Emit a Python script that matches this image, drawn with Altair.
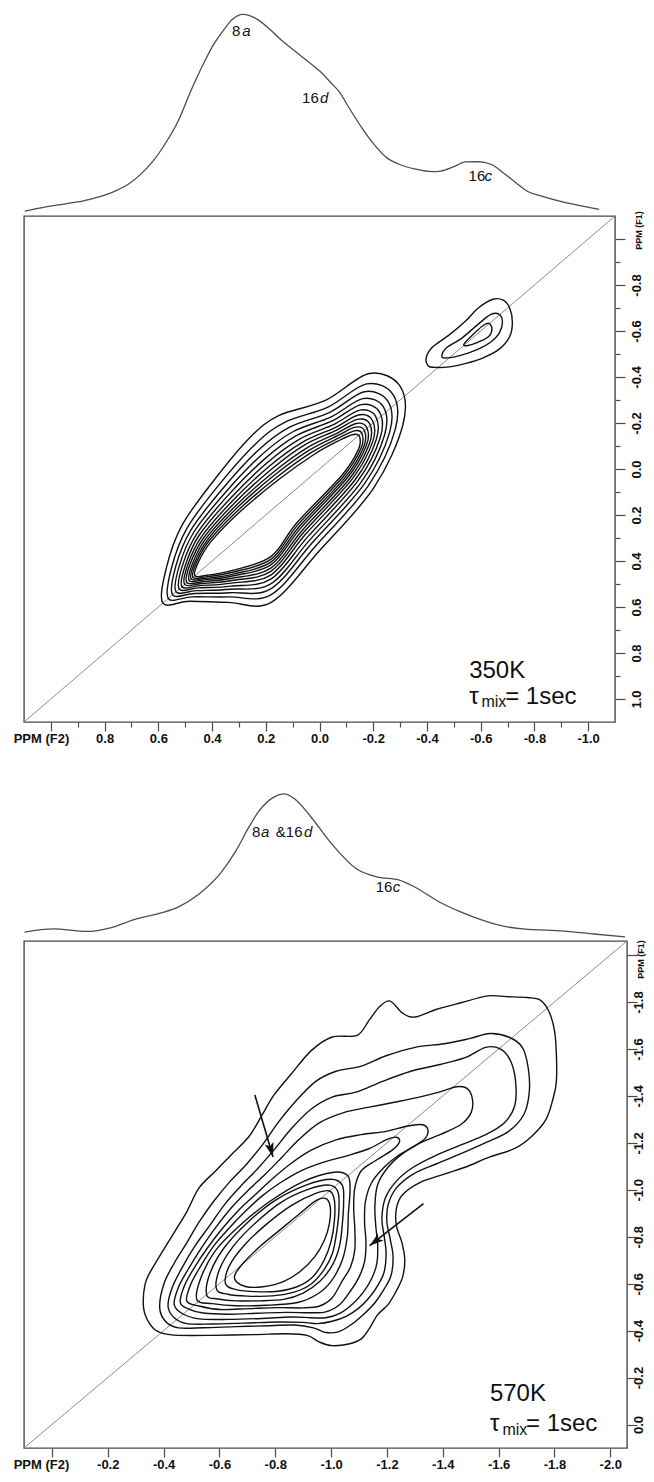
import altair as alt
import pandas as pd

# ---------------- fonts / colours ----------------
FONT_R = "Liberation Sans, Arial, sans-serif"
INK = "#111111"
BOX = "#4a4a4a"

# ---------------- axis ticks ----------------
X1_TICKS = [1.0, 0.9, 0.8, 0.7, 0.6, 0.5, 0.4, 0.3, 0.2, 0.1, 0.0,
            -0.1, -0.2, -0.3, -0.4, -0.5, -0.6, -0.7, -0.8, -0.9, -1.0]
Y1_TICKS = [-1.0, -0.9, -0.8, -0.7, -0.6, -0.5, -0.4, -0.3, -0.2, -0.1, 0.0,
            0.1, 0.2, 0.3, 0.4, 0.5, 0.6, 0.7, 0.8, 0.9, 1.0]
X2_TICKS = [0.0, -0.1, -0.2, -0.3, -0.4, -0.5, -0.6, -0.7, -0.8, -0.9, -1.0,
            -1.1, -1.2, -1.3, -1.4, -1.5, -1.6, -1.7, -1.8, -1.9, -2.0]
Y2_TICKS = X2_TICKS
DOM1 = [-1.1, 1.1]
DOM2 = [-2.06, 0.1]

# ---------------- 1D projections ----------------
P350_PPM = [1.097, 1.023, 0.945, 0.883, 0.821, 0.759, 0.712, 0.666, 0.619, 0.572, 0.526,
            0.479, 0.433, 0.394, 0.355, 0.324, 0.286, 0.231, 0.185, 0.138, 0.092, 0.045,
            -0.001, -0.048, -0.071, -0.110, -0.157, -0.203, -0.250, -0.296, -0.358, -0.420,
            -0.451, -0.498, -0.544, -0.591, -0.638, -0.684, -0.731, -0.777, -0.824, -0.901,
            -0.979, -1.041]
P350_INT = [0.024, 0.043, 0.059, 0.072, 0.092, 0.121, 0.153, 0.201, 0.266, 0.354, 0.459,
            0.604, 0.733, 0.829, 0.902, 0.950, 0.974, 0.950, 0.902, 0.845, 0.797, 0.749,
            0.700, 0.636, 0.604, 0.523, 0.427, 0.346, 0.282, 0.250, 0.226, 0.214,
            0.217, 0.237, 0.261, 0.262, 0.250, 0.209, 0.161, 0.117, 0.097, 0.069,
            0.048, 0.032]
P570_PPM = [0.098, -0.005, -0.123, -0.213, -0.302, -0.391, -0.452, -0.527, -0.602, -0.659,
            -0.706, -0.742, -0.795, -0.831, -0.870, -0.928, -1.003, -1.092, -1.167, -1.242,
            -1.299, -1.388, -1.464, -1.539, -1.614, -1.689, -1.835, -1.942, -2.053]
P570_INT = [0.046, 0.062, 0.049, 0.069, 0.113, 0.144, 0.174, 0.241, 0.344, 0.462,
            0.585, 0.667, 0.738, 0.754, 0.728, 0.636, 0.497, 0.369, 0.328, 0.313,
            0.277, 0.200, 0.149, 0.108, 0.077, 0.062, 0.051, 0.036, 0.021]

# peak labels on the projections: (text, ppm of left edge, intensity of baseline)
P350_LAB_NORMAL = [("8", 0.326, 0.870), ("16", 0.065, 0.546), ("16", -0.555, 0.169)]
P350_LAB_ITALIC = [("a", 0.288, 0.870), ("d", -0.002, 0.546), ("c", -0.614, 0.169)]
P570_LAB_NORMAL = [("8", -0.717, 0.533), ("&16", -0.802, 0.533), ("16", -1.160, 0.251)]
P570_LAB_ITALIC = [("a", -0.749, 0.533), ("d", -0.903, 0.533), ("c", -1.221, 0.251)]

# ---------------- 350 K contours (ppm F2, ppm F1) ----------------
T_C00_X = [0.583, 0.570, 0.513, 0.392, 0.258, 0.152, -0.022, -0.185, -0.300, -0.310, -0.202, 0.002, 0.180, 0.340, 0.485]
T_C00_Y = [0.583, 0.430, 0.247, 0.048, -0.138, -0.232, -0.298, -0.415, -0.360, -0.190, 0.082, 0.358, 0.580, 0.580, 0.575]
T_C01_X = [0.563, 0.550, 0.494, 0.376, 0.240, 0.130, -0.031, -0.175, -0.274, -0.282, -0.182, 0.016, 0.180, 0.337, 0.474]
T_C01_Y = [0.563, 0.426, 0.259, 0.071, -0.107, -0.203, -0.269, -0.370, -0.323, -0.172, 0.072, 0.337, 0.546, 0.556, 0.556]
T_C02_X = [0.547, 0.535, 0.480, 0.363, 0.227, 0.113, -0.038, -0.167, -0.255, -0.261, -0.167, 0.027, 0.180, 0.334, 0.465]
T_C02_Y = [0.547, 0.423, 0.268, 0.089, -0.083, -0.181, -0.246, -0.336, -0.294, -0.159, 0.065, 0.321, 0.520, 0.538, 0.541]
T_C03_X = [0.534, 0.522, 0.468, 0.352, 0.215, 0.099, -0.044, -0.161, -0.238, -0.242, -0.154, 0.036, 0.180, 0.332, 0.458]
T_C03_Y = [0.534, 0.421, 0.275, 0.104, -0.062, -0.162, -0.227, -0.306, -0.270, -0.147, 0.059, 0.308, 0.498, 0.523, 0.529]
T_C04_X = [0.522, 0.510, 0.457, 0.343, 0.204, 0.086, -0.049, -0.155, -0.223, -0.226, -0.142, 0.044, 0.180, 0.330, 0.451]
T_C04_Y = [0.522, 0.419, 0.282, 0.118, -0.044, -0.145, -0.210, -0.280, -0.248, -0.136, 0.053, 0.295, 0.478, 0.509, 0.517]
T_C05_X = [0.512, 0.499, 0.448, 0.334, 0.195, 0.074, -0.054, -0.150, -0.209, -0.211, -0.132, 0.052, 0.180, 0.328, 0.445]
T_C05_Y = [0.512, 0.417, 0.288, 0.130, -0.027, -0.130, -0.194, -0.256, -0.229, -0.127, 0.048, 0.284, 0.460, 0.496, 0.507]
T_C06_X = [0.502, 0.490, 0.439, 0.326, 0.187, 0.064, -0.058, -0.145, -0.197, -0.198, -0.122, 0.058, 0.180, 0.326, 0.439]
T_C06_Y = [0.502, 0.415, 0.294, 0.141, -0.012, -0.116, -0.180, -0.235, -0.211, -0.119, 0.043, 0.274, 0.444, 0.485, 0.498]
T_C07_X = [0.494, 0.482, 0.431, 0.319, 0.179, 0.055, -0.062, -0.141, -0.187, -0.186, -0.114, 0.064, 0.180, 0.325, 0.435]
T_C07_Y = [0.494, 0.414, 0.299, 0.151, 0.001, -0.105, -0.168, -0.216, -0.196, -0.111, 0.039, 0.266, 0.430, 0.475, 0.490]
T_C08_X = [0.485, 0.473, 0.424, 0.312, 0.172, 0.045, -0.066, -0.137, -0.176, -0.175, -0.106, 0.070, 0.180, 0.324, 0.430]
T_C08_Y = [0.485, 0.412, 0.304, 0.160, 0.014, -0.093, -0.156, -0.198, -0.180, -0.104, 0.035, 0.257, 0.416, 0.465, 0.482]
T_C09_X = [0.478, 0.466, 0.417, 0.307, 0.166, 0.038, -0.069, -0.133, -0.167, -0.165, -0.099, 0.075, 0.180, 0.322, 0.426]
T_C09_Y = [0.478, 0.411, 0.308, 0.169, 0.025, -0.082, -0.146, -0.182, -0.167, -0.098, 0.032, 0.250, 0.404, 0.457, 0.476]
T_C10_X = [0.471, 0.459, 0.411, 0.301, 0.159, 0.030, -0.072, -0.130, -0.158, -0.155, -0.092, 0.080, 0.180, 0.321, 0.422]
T_C10_Y = [0.471, 0.409, 0.312, 0.177, 0.036, -0.072, -0.135, -0.166, -0.154, -0.091, 0.028, 0.242, 0.392, 0.448, 0.469]
T_C11_X = [0.464, 0.452, 0.404, 0.295, 0.153, 0.022, -0.075, -0.126, -0.149, -0.145, -0.085, 0.085, 0.180, 0.320, 0.418]
T_C11_Y = [0.464, 0.408, 0.316, 0.185, 0.047, -0.062, -0.125, -0.150, -0.141, -0.085, 0.025, 0.235, 0.380, 0.440, 0.462]
# 16c cross-peak region
T_S0_X = [-0.405, -0.397, -0.420, -0.483, -0.545, -0.591, -0.646, -0.684, -0.708, -0.718, -0.708, -0.669, -0.607, -0.545, -0.483, -0.428]
T_S0_Y = [-0.448, -0.483, -0.529, -0.583, -0.645, -0.700, -0.738, -0.734, -0.700, -0.638, -0.576, -0.521, -0.482, -0.459, -0.444, -0.442]
T_S1_X = [-0.455, -0.475, -0.529, -0.591, -0.638, -0.669, -0.681, -0.669, -0.638, -0.591, -0.529, -0.475]
T_S1_Y = [-0.490, -0.529, -0.568, -0.630, -0.672, -0.672, -0.638, -0.591, -0.552, -0.521, -0.495, -0.483]
T_S2_X = [-0.537, -0.560, -0.607, -0.630, -0.642, -0.630, -0.591, -0.552]
T_S2_Y = [-0.541, -0.572, -0.622, -0.633, -0.610, -0.576, -0.552, -0.537]

# ---------------- 570 K contours ----------------
L_C00_X = [-0.327, -0.334, -0.349, -0.393, -0.438, -0.483, -0.527, -0.587, -0.646, -0.706, -0.751, -0.795, -0.855,
           -0.929, -1.004, -1.093, -1.137, -1.175, -1.212, -1.256, -1.301, -1.376, -1.465, -1.562, -1.628, -1.703,
           -1.748, -1.780, -1.800, -1.807, -1.807, -1.795, -1.770, -1.718, -1.658, -1.569, -1.480, -1.405, -1.316,
           -1.256, -1.234, -1.234, -1.254, -1.264, -1.256, -1.234, -1.204, -1.167, -1.137, -1.108, -1.063, -1.004,
           -0.959, -0.914, -0.840, -0.721, -0.572, -0.453, -0.401, -0.364, -0.334]
L_C00_Y = [-0.526, -0.599, -0.643, -0.731, -0.818, -0.906, -1.008, -1.081, -1.154, -1.227, -1.315, -1.403, -1.490,
           -1.593, -1.651, -1.658, -1.724, -1.782, -1.804, -1.753, -1.736, -1.768, -1.797, -1.826, -1.823, -1.819,
           -1.809, -1.761, -1.680, -1.578, -1.461, -1.388, -1.300, -1.227, -1.176, -1.140, -1.096, -1.067, -1.030,
           -0.979, -0.921, -0.847, -0.774, -0.701, -0.628, -0.570, -0.511, -0.468, -0.409, -0.365, -0.343, -0.336,
           -0.351, -0.380, -0.387, -0.383, -0.380, -0.380, -0.387, -0.409, -0.468]
L_C01_X = [-0.386, -0.401, -0.438, -0.483, -0.527, -0.579, -0.639, -0.698, -0.758, -0.810, -0.870, -0.944, -1.018,
           -1.108, -1.197, -1.301, -1.405, -1.495, -1.569, -1.636, -1.685, -1.706, -1.710, -1.691, -1.636, -1.554,
           -1.465, -1.376, -1.294, -1.234, -1.204, -1.200, -1.212, -1.222, -1.215, -1.190, -1.157, -1.115, -1.070,
           -1.026, -0.981, -0.937, -0.870, -0.780, -0.661, -0.542, -0.453, -0.408]
L_C01_Y = [-0.497, -0.599, -0.687, -0.774, -0.862, -0.950, -1.037, -1.110, -1.198, -1.286, -1.373, -1.461, -1.505,
           -1.527, -1.571, -1.607, -1.622, -1.644, -1.666, -1.651, -1.607, -1.520, -1.417, -1.322, -1.249, -1.201,
           -1.154, -1.110, -1.067, -1.008, -0.935, -0.862, -0.789, -0.716, -0.636, -0.577, -0.519, -0.468, -0.424,
           -0.395, -0.392, -0.412, -0.424, -0.421, -0.417, -0.412, -0.412, -0.438]
L_C02_X = [-0.416, -0.431, -0.468, -0.512, -0.565, -0.617, -0.676, -0.736, -0.795, -0.855, -0.929, -1.004, -1.093,
           -1.182, -1.286, -1.390, -1.480, -1.554, -1.606, -1.643, -1.661, -1.658, -1.621, -1.554, -1.465, -1.376,
           -1.294, -1.234, -1.194, -1.182, -1.190, -1.197, -1.190, -1.167, -1.137, -1.100, -1.056, -1.004, -0.951,
           -0.899, -0.810, -0.691, -0.572, -0.483, -0.438]
L_C02_Y = [-0.504, -0.584, -0.672, -0.760, -0.847, -0.935, -1.015, -1.089, -1.169, -1.257, -1.344, -1.395, -1.417,
           -1.461, -1.505, -1.534, -1.563, -1.607, -1.600, -1.549, -1.461, -1.359, -1.286, -1.235, -1.191, -1.147,
           -1.096, -1.037, -0.964, -0.877, -0.804, -0.731, -0.650, -0.592, -0.541, -0.497, -0.462, -0.440, -0.430,
           -0.435, -0.437, -0.432, -0.428, -0.430, -0.455]
L_C03_X = [-0.438, -0.453, -0.490, -0.535, -0.587, -0.646, -0.706, -0.765, -0.825, -0.884, -0.959, -1.048, -1.137,
           -1.227, -1.316, -1.390, -1.450, -1.487, -1.506, -1.502, -1.465, -1.390, -1.316, -1.256, -1.204, -1.167,
           -1.157, -1.160, -1.167, -1.164, -1.145, -1.115, -1.078, -1.033, -0.981, -0.929, -0.855, -0.751, -0.632,
           -0.527, -0.468]
L_C03_Y = [-0.511, -0.584, -0.665, -0.752, -0.840, -0.928, -1.001, -1.067, -1.140, -1.213, -1.286, -1.330, -1.352,
           -1.373, -1.395, -1.417, -1.439, -1.432, -1.388, -1.330, -1.278, -1.235, -1.198, -1.154, -1.096, -1.023,
           -0.935, -0.847, -0.767, -0.687, -0.621, -0.563, -0.515, -0.475, -0.455, -0.455, -0.458, -0.452, -0.448,
           -0.450, -0.472]
L_C04_X = [-0.460, -0.475, -0.512, -0.557, -0.609, -0.669, -0.728, -0.788, -0.855, -0.929, -1.018, -1.108, -1.197,
           -1.271, -1.323, -1.346, -1.338, -1.294, -1.242, -1.190, -1.145, -1.123, -1.120, -1.125, -1.120, -1.100,
           -1.070, -1.030, -0.981, -0.922, -0.840, -0.736, -0.632, -0.542, -0.490]
L_C04_Y = [-0.519, -0.592, -0.672, -0.752, -0.833, -0.913, -0.979, -1.045, -1.111, -1.169, -1.213, -1.235, -1.249,
           -1.271, -1.278, -1.259, -1.220, -1.183, -1.147, -1.096, -1.030, -0.950, -0.862, -0.774, -0.694, -0.628,
           -0.570, -0.510, -0.480, -0.476, -0.478, -0.474, -0.470, -0.475, -0.492]
L_C05_X = [-0.483, -0.498, -0.535, -0.579, -0.632, -0.691, -0.751, -0.818, -0.892, -0.974, -1.063, -1.137, -1.197,
           -1.234, -1.245, -1.219, -1.160, -1.108, -1.085, -1.081, -1.085, -1.085, -1.070, -1.041, -1.004, -0.959,
           -0.899, -0.810, -0.706, -0.602, -0.527]
L_C05_Y = [-0.526, -0.599, -0.679, -0.760, -0.833, -0.906, -0.972, -1.030, -1.081, -1.118, -1.147, -1.176, -1.213,
           -1.224, -1.205, -1.169, -1.125, -1.081, -1.008, -0.921, -0.833, -0.745, -0.672, -0.614, -0.540, -0.505,
           -0.497, -0.498, -0.494, -0.490, -0.505]
L_C06_X = [-0.520, -0.532, -0.585, -0.675, -0.780, -0.900, -1.010, -1.060, -1.068, -1.062, -1.058, -1.040, -1.000,
           -0.950, -0.880, -0.770, -0.660, -0.575]
L_C06_Y = [-0.530, -0.620, -0.740, -0.850, -0.950, -1.035, -1.075, -1.060, -1.000, -0.900, -0.800, -0.700, -0.610,
           -0.555, -0.520, -0.508, -0.506, -0.515]
L_C07_X = [-0.555, -0.565, -0.615, -0.700, -0.800, -0.910, -1.000, -1.040, -1.045, -1.040, -1.030, -1.005, -0.960,
           -0.900, -0.830, -0.740, -0.660, -0.595]
L_C07_Y = [-0.550, -0.640, -0.750, -0.860, -0.955, -1.020, -1.045, -1.020, -0.950, -0.850, -0.760, -0.680, -0.610,
           -0.560, -0.533, -0.527, -0.527, -0.535]
L_C08_X = [-0.590, -0.600, -0.650, -0.730, -0.825, -0.925, -0.995, -1.025, -1.028, -1.020, -1.005, -0.975, -0.930,
           -0.870, -0.790, -0.700, -0.630]
L_C08_Y = [-0.575, -0.660, -0.760, -0.860, -0.950, -1.005, -1.020, -0.990, -0.910, -0.820, -0.730, -0.660, -0.600,
           -0.565, -0.548, -0.547, -0.555]
L_C09_X = [-0.622, -0.635, -0.690, -0.770, -0.860, -0.945, -0.995, -1.012, -1.012, -1.000, -0.975, -0.935, -0.880,
           -0.810, -0.730, -0.660]
L_C09_Y = [-0.600, -0.675, -0.765, -0.855, -0.935, -0.985, -0.995, -0.955, -0.870, -0.780, -0.700, -0.630, -0.588,
           -0.568, -0.566, -0.575]
L_C10_X = [-0.655, -0.684, -0.744, -0.815, -0.887, -0.947, -0.982, -0.997, -0.994, -0.976, -0.941, -0.887, -0.827,
           -0.756, -0.696, -0.661]
L_C10_Y = [-0.636, -0.686, -0.757, -0.827, -0.898, -0.955, -0.962, -0.926, -0.856, -0.785, -0.714, -0.650, -0.608,
           -0.587, -0.587, -0.608]

# arrows in the 570 K map (start -> tip, ppm) and their head rotation
ARROW_X1 = [-0.727, -1.331]
ARROW_Y1 = [-1.404, -0.941]
ARROW_X2 = [-0.792, -1.138]
ARROW_Y2 = [-1.140, -0.762]
ARROW_ANGLE = [344, 52]

# annotation text (left edge / baseline in ppm, font size)
ANN350 = [("350K", -0.557, 0.909, 24), ("\u03c4", -0.557, 1.022, 24), ("mix", -0.603, 1.035, 16), ("= 1sec", -0.691, 1.022, 24)]
ANN570 = [("570K", -1.569, -0.099, 24), ("\u03c4", -1.569, 0.028, 24), ("mix", -1.614, 0.045, 16), ("= 1sec", -1.698, 0.028, 24)]

# ---------------- tables ----------------
TOP_SET = [(T_C00_X, T_C00_Y), (T_C01_X, T_C01_Y), (T_C02_X, T_C02_Y), (T_C03_X, T_C03_Y),
           (T_C04_X, T_C04_Y), (T_C05_X, T_C05_Y), (T_C06_X, T_C06_Y), (T_C07_X, T_C07_Y),
           (T_C08_X, T_C08_Y), (T_C09_X, T_C09_Y), (T_C10_X, T_C10_Y), (T_C11_X, T_C11_Y),
           (T_S0_X, T_S0_Y), (T_S1_X, T_S1_Y), (T_S2_X, T_S2_Y)]
LOW_SET = [(L_C00_X, L_C00_Y), (L_C01_X, L_C01_Y), (L_C02_X, L_C02_Y), (L_C03_X, L_C03_Y),
           (L_C04_X, L_C04_Y), (L_C05_X, L_C05_Y), (L_C06_X, L_C06_Y), (L_C07_X, L_C07_Y),
           (L_C08_X, L_C08_Y), (L_C09_X, L_C09_Y), (L_C10_X, L_C10_Y)]


def contour_table(sets):
    rows = []
    for cid, (xs, ys) in enumerate(sets):
        assert len(xs) == len(ys), (cid, len(xs), len(ys))
        for k, (x, y) in enumerate(zip(xs, ys)):
            rows.append({"c": cid, "k": k, "x": x, "y": y})
    return pd.DataFrame(rows)


def proj_table(xs, ys):
    assert len(xs) == len(ys)
    return pd.DataFrame({"x": xs, "i": ys, "k": list(range(len(xs)))})


def label_table(items):
    return pd.DataFrame([{"t": t, "x": x, "i": i} for t, x, i in items])


def ann_table(items):
    return pd.DataFrame([{"t": t, "x": x, "y": y, "s": s} for t, x, y, s in items])


EVEN = "abs(round(datum.value * 10)) % 2 == 0"
FMT = "(datum.value < -0.001 ? '-' : '') + format(abs(datum.value), '.1f')"
LAB_SIZE = 13


def x_axis(values, cond):
    return alt.Axis(
        orient="bottom", values=values, domain=False, grid=False,
        tickColor=BOX, tickWidth=1.2,
        tickSize={"condition": {"test": EVEN, "value": 9}, "value": 5},
        labelExpr=f"{EVEN} && {cond} ? {FMT} : ''",
        labelFont=FONT_R, labelFontSize=LAB_SIZE, labelFontWeight="bold", labelColor=INK,
        labelPadding=1, labelBaseline="top", labelOverlap=False, labelBound=False, labelFlush=False,
        title="PPM (F2)", titleFont=FONT_R, titleFontSize=LAB_SIZE, titleFontWeight="bold",
        titleColor=INK, titleX=17, titleY=10, titleAlign="center",
        titleBaseline="top", titleAngle=0,
    )


def y_axis(values, cond, pad, title_x, title_y):
    return alt.Axis(
        orient="right", values=values, domain=False, grid=False,
        tickColor=BOX, tickWidth=1.2,
        tickSize={"condition": {"test": EVEN, "value": 10}, "value": 5},
        labelExpr=f"{EVEN} && {cond} ? {FMT} : ''",
        labelAngle=270, labelAlign="center", labelBaseline="middle", labelPadding=pad,
        labelFont=FONT_R, labelFontSize=LAB_SIZE, labelFontWeight="bold", labelColor=INK,
        labelOverlap=False, labelBound=False, labelFlush=False,
        title="PPM (F1)", titleAngle=270, titleX=title_x, titleY=title_y,
        titleAlign="center", titleBaseline="middle", titleFont=FONT_R,
        titleFontSize=9, titleFontWeight="bold", titleColor=INK,
    )


def projection(xs, ys, lab_n, lab_i, dom, width, height, ytop):
    xsc = alt.Scale(domain=dom, reverse=True, nice=False, zero=False)
    xenc = alt.X("x:Q", scale=xsc, axis=None)
    yenc = alt.Y("i:Q", scale=alt.Scale(domain=[0, ytop], nice=False, zero=False), axis=None)
    line = alt.Chart(proj_table(xs, ys)).mark_line(
        color="#4d4d4d", strokeWidth=1.3, interpolate="monotone"
    ).encode(x=xenc, y=yenc, order=alt.Order("k:Q"))
    tn = alt.Chart(label_table(lab_n)).mark_text(
        align="left", baseline="alphabetic", font=FONT_R, fontSize=15, color=INK
    ).encode(x=xenc, y=yenc, text="t:N")
    ti = alt.Chart(label_table(lab_i)).mark_text(
        align="left", baseline="alphabetic", font=FONT_R, fontSize=15, fontStyle="italic", color=INK
    ).encode(x=xenc, y=yenc, text="t:N")
    return alt.layer(line, tn, ti).properties(
        width=width, height=height,
        view=alt.ViewBackground(stroke="transparent"))


def contour_panel(sets, dom, xticks, yticks, xcond, ycond, width, height,
                  ypad, ytitle_x, ytitle_y, ann, arrows):
    xsc = alt.Scale(domain=dom, reverse=True, nice=False, zero=False)
    ysc = alt.Scale(domain=dom, reverse=True, nice=False, zero=False)
    xenc = alt.X("x:Q", scale=xsc, axis=x_axis(xticks, xcond))
    yenc = alt.Y("y:Q", scale=ysc, axis=y_axis(yticks, ycond, ypad, ytitle_x, ytitle_y))
    diag_df = pd.DataFrame({"x": [dom[1], dom[0]], "y": [dom[1], dom[0]]})
    diag = alt.Chart(diag_df).mark_line(color="#8c8c8c", strokeWidth=1).encode(x=xenc, y=yenc)
    cont = alt.Chart(contour_table(sets)).mark_line(
        color=INK, strokeWidth=1.4, interpolate="cardinal-closed"
    ).encode(x=xenc, y=yenc, detail="c:N", order=alt.Order("k:Q"))
    adf = ann_table(ann)
    big = alt.Chart(adf[adf.s > 20]).mark_text(
        align="left", baseline="alphabetic", font=FONT_R, fontSize=24, color=INK
    ).encode(x=xenc, y=yenc, text="t:N")
    small = alt.Chart(adf[adf.s < 20]).mark_text(
        align="left", baseline="alphabetic", font=FONT_R, fontSize=16, color=INK
    ).encode(x=xenc, y=yenc, text="t:N")
    layers = [diag, cont, big, small]
    if arrows:
        ar = pd.DataFrame({"x": ARROW_X1, "y": ARROW_Y1, "x2": ARROW_X2, "y2": ARROW_Y2,
                           "a": ARROW_ANGLE})
        shaft = alt.Chart(ar).mark_rule(color=INK, strokeWidth=1.6).encode(
            x=xenc, y=yenc, x2="x2:Q", y2="y2:Q")
        layers.append(shaft)
        head_path = "M0,0 L-0.32,-1 L0,-0.78 L0.32,-1 Z"
        for idx in range(len(ARROW_ANGLE)):
            head = alt.Chart(ar.iloc[[idx]]).mark_point(
                shape=head_path, filled=True, size=800, color=INK, opacity=1,
                angle=ARROW_ANGLE[idx], strokeWidth=0
            ).encode(x=alt.X("x2:Q", scale=xsc), y=alt.Y("y2:Q", scale=ysc))
            layers.append(head)
    return alt.layer(*layers).properties(
        width=width, height=height,
        view=alt.ViewBackground(stroke=BOX, strokeWidth=1.4))


W1, H1, PH1 = 591, 506, 207
W2, H2, PH2 = 603, 507, 219

p1 = projection(P350_PPM, P350_INT, P350_LAB_NORMAL, P350_LAB_ITALIC, DOM1, W1, PH1, 1.0)
c1 = contour_panel(TOP_SET, DOM1, X1_TICKS, Y1_TICKS, "datum.value < 0.95", "datum.value > -0.95",
                   W1, H1, 11, 23, 14, ANN350, False)
p2 = projection(P570_PPM, P570_INT, P570_LAB_NORMAL, P570_LAB_ITALIC, DOM2, W2, PH2, PH2 / 195)
c2 = contour_panel(LOW_SET, DOM2, X2_TICKS, Y2_TICKS, "datum.value < -0.05", "datum.value > -1.95",
                   W2, H2, 1, 13, 18, ANN570, True)

chart = alt.vconcat(p1, c1, p2, c2, spacing=0, bounds="flush").properties(
    padding={"left": 4, "top": 0, "right": 0, "bottom": 0}
).configure(font=FONT_R)

chart.save("out.html", embed_options={"renderer": "svg", "actions": False})
